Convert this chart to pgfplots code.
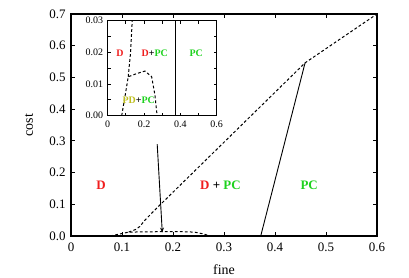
\documentclass[border=0pt]{standalone}
\usepackage{fontspec}
\setmainfont{Liberation Serif}
\usepackage{pgfplots}
\pgfplotsset{compat=1.18}
\usetikzlibrary{arrows.meta}
\definecolor{cD}{RGB}{240,30,30}
\definecolor{cPC}{RGB}{30,210,30}
\definecolor{cPD}{RGB}{190,190,30}
\begin{document}
\begin{tikzpicture}[x=1bp,y=1bp]
\useasboundingbox (0,0) rectangle (409,278);
\begin{axis}[at={(71bp,42bp)}, anchor=south west, scale only axis,
  width=306bp, height=222bp,
  xmin=0, xmax=0.6, ymin=0, ymax=0.7,
  /pgf/number format/assume math mode=true,
  xtick={0,0.1,0.2,0.3,0.4,0.5,0.6},
  xticklabels={0,0.1,0.2,0.3,0.4,0.5,0.6},
  ytick={0,0.1,0.2,0.3,0.4,0.5,0.6,0.7},
  yticklabels={0.0,0.1,0.2,0.3,0.4,0.5,0.6,0.7},
  tick align=inside, xtick pos=both, ytick pos=both,
  major tick length=4bp,
  tick style={line width=0.8bp, black},
  axis line style={line width=1.1bp},
  ticklabel style={font=\rmfamily\fontsize{13}{13}\selectfont},
  xticklabel style={yshift=-3bp},
  yticklabel style={xshift=-2bp},
  xlabel={fine}, ylabel={cost},
  label style={font=\rmfamily\fontsize{14}{14}\selectfont},
  xlabel style={at={(axis description cs:0.5,-0.153)}, anchor=center},
  ylabel style={at={(axis description cs:-0.137,0.5)}, anchor=center},
  clip=true]
\addplot[black, line width=1bp, dash pattern=on 2.8bp off 2.2bp] coordinates {
 (0.113,0.0123)(0.126,0.02)(0.135,0.03)(0.145,0.05)(0.165,0.083)
 (0.459,0.546)(0.6,0.7)};
\addplot[black, line width=1bp, dash pattern=on 2.8bp off 2.2bp] coordinates {
 (0.077,0)(0.095,0.006)(0.113,0.0123)(0.16,0.0133)(0.205,0.0141)(0.242,0.0123)(0.26,0.0065)(0.272,0)};
\addplot[black, line width=0.9bp] coordinates {(0.372,0)(0.459,0.546)};
\addplot[black, line width=0.9bp, -{Stealth[length=5bp,width=4bp]}] coordinates {(0.169,0.29)(0.179,0.011)};
\node[text=cD, font=\bfseries\fontsize{13}{13}\selectfont] at (axis cs:0.059,0.159) {D};
\node[font=\bfseries\fontsize{13}{13}\selectfont] at (axis cs:0.293,0.159) {\textcolor{cD}{D} + \textcolor{cPC}{PC}};
\node[text=cPC, font=\bfseries\fontsize{13}{13}\selectfont] at (axis cs:0.467,0.159) {PC};
\end{axis}
\begin{axis}[at={(107.7bp,162.3bp)}, anchor=south west, scale only axis,
  width=109bp, height=95bp,
  xmin=0, xmax=0.6, ymin=0, ymax=0.03,
  /pgf/number format/assume math mode=true,
  axis background/.style={fill=white},
  xtick={0,0.2,0.4,0.6}, xticklabels={0,0.2,0.4,0.6},
  minor xtick={0.1,0.3,0.5},
  ytick={0,0.01,0.02,0.03}, yticklabels={0.00,0.01,0.02,0.03},
  minor ytick={0.005,0.015,0.025},
  scaled y ticks=false,
  tick align=inside, xtick pos=both, ytick pos=both,
  major tick length=3bp, minor tick length=3bp,
  tick style={line width=0.8bp, black},
  axis line style={line width=1.1bp},
  ticklabel style={font=\rmfamily\fontsize{10}{10}\selectfont},
  xticklabel style={yshift=-2bp},
  yticklabel style={xshift=-1bp}]
\addplot[black, line width=1bp, dash pattern=on 2.8bp off 2.2bp] coordinates {
 (0.113,0.0123)(0.126,0.02)(0.135,0.03)(0.14,0.04)};
\addplot[black, line width=1bp, dash pattern=on 2.8bp off 2.2bp] coordinates {
 (0.077,0)(0.095,0.006)(0.113,0.0123)(0.16,0.0133)(0.205,0.0141)(0.242,0.0123)(0.26,0.0065)(0.272,0)};
\addplot[black, line width=0.9bp] coordinates {(0.374,0)(0.374,0.03)};
\node[text=cD, font=\bfseries\fontsize{10}{10}\selectfont] at (axis cs:0.068,0.0197) {D};
\node[font=\bfseries\fontsize{10}{10}\selectfont] at (axis cs:0.259,0.0197) {\textcolor{cD}{D}+\textcolor{cPC}{PC}};
\node[text=cPC, font=\bfseries\fontsize{10}{10}\selectfont] at (axis cs:0.487,0.0197) {PC};
\node[font=\bfseries\fontsize{10}{10}\selectfont] at (axis cs:0.171,0.00495) {\textcolor{cPD}{PD}+\textcolor{cPC}{PC}};
\end{axis}
\end{tikzpicture}
\end{document}
